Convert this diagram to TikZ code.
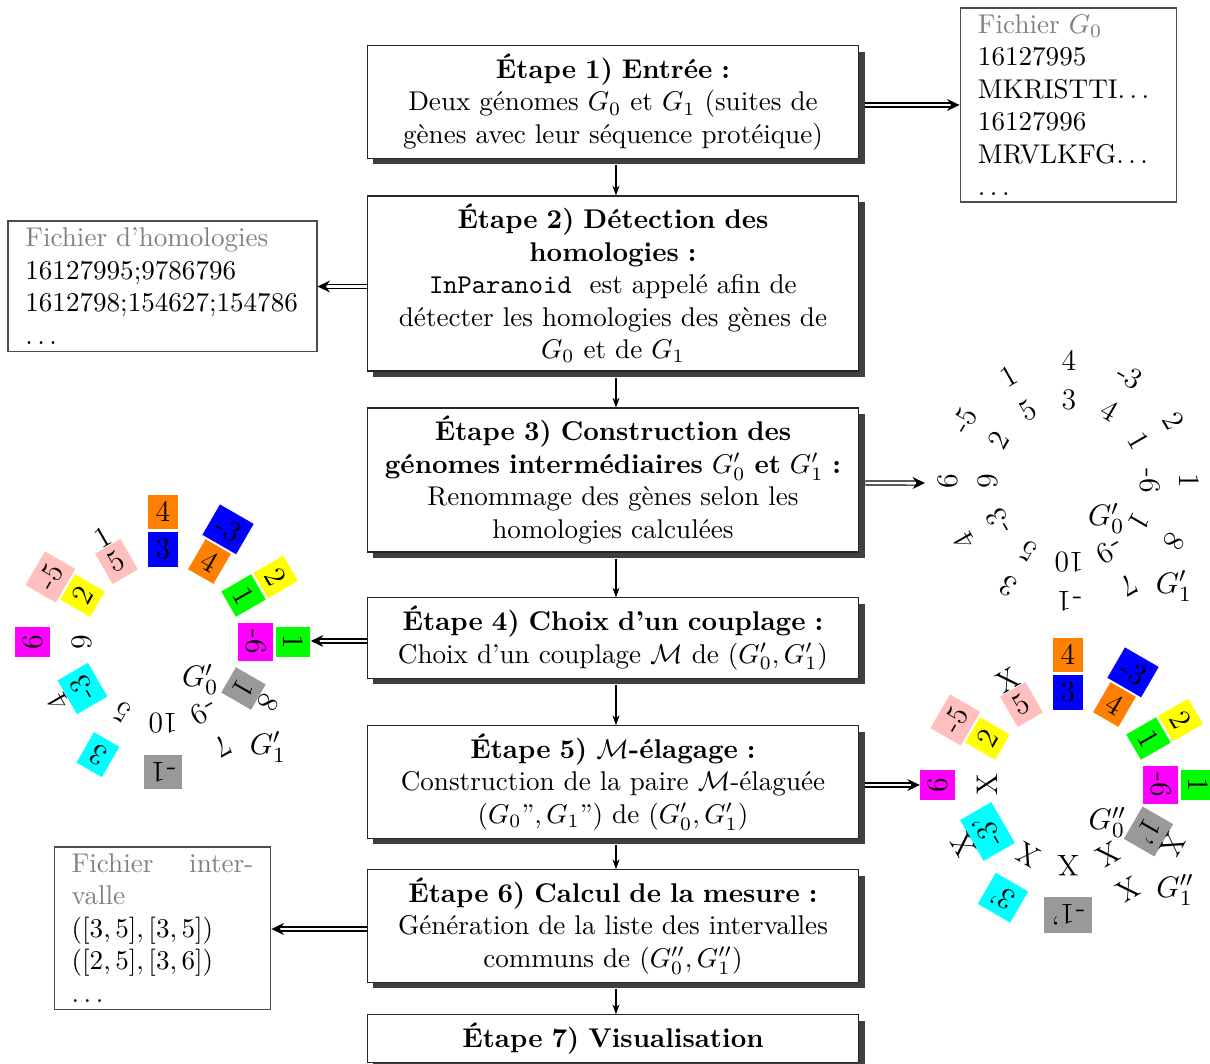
\documentclass[tikz,border=0pt]{standalone}
\usepackage{fontspec}
\usetikzlibrary{arrows.meta,shadows}
\definecolor{genegray}{gray}{0.6}
\definecolor{genemagenta}{rgb}{1,0,1}
\definecolor{genecyan}{rgb}{0,1,1}
\definecolor{geneblue}{rgb}{0,0,1}
\definecolor{geneorange}{rgb}{1,0.5,0}
\definecolor{genegreen}{rgb}{0,1,0}
\definecolor{geneyellow}{rgb}{1,1,0}
\definecolor{genepink}{rgb}{1,0.75,0.75}
\def\gnone{none}
% one ring of twelve genes, read clockwise from the top
% #1 name prefix, #2 radius of plain labels, #3 radius of coloured labels, #4 list label/colour
\newcommand\genering[4]{%
  \foreach \lab/\col [count=\k from 0] in {#4} {%
    \pgfmathsetmacro\ang{90-30*\k}%
    \ifx\col\gnone
      \node[gene, rotate=\ang-90] (#1\k) at (\ang:#2) {\lab};
    \else
      \node[gene, genebox=\col, rotate=\ang-90] (#1\k) at (\ang:#3) {\lab};
    \fi
  }}
\begin{document}
\begin{tikzpicture}[x=0.369pt, y=-0.369pt,
  stepbox/.style={draw=black!85, line width=0.4pt, fill=white,
    minimum width=181.5pt, text width=172pt, inner xsep=4.75pt, inner ysep=3pt,
    align=center,
    drop shadow={shadow xshift=2.2pt, shadow yshift=-2.2pt, fill=black!75, opacity=1}},
  filebox/.style={draw=black!70, line width=0.4pt, fill=white, align=left,
    inner xsep=6.4pt, inner ysep=2pt},
  flow/.style={line width=0.4pt, -{Stealth[length=3.6pt, width=2.6pt]}},
  feed/.style={double, double distance=1.1pt, line width=0.4pt,
    -{Stealth[length=4.6pt, width=4.4pt]}},
  gene/.style={font=\fontsize{11}{13}\selectfont, inner sep=1pt},
  genebox/.style={fill=#1, inner sep=2.7pt},
  ringlabel/.style={font=\fontsize{11}{13}\selectfont, inner sep=0pt}]

\useasboundingbox (0,0) rectangle (1210,1063);

% ---- the seven steps
\node[stepbox, minimum height=41.3pt] (b1) at (613,102)
  {{\bfseries Étape 1) Entrée :}\\
   Deux génomes $G_0$ et $G_1$ (suites de\\
   gènes avec leur séquence protéique)};
\node[stepbox, minimum height=63.8pt] (b2) at (613,283.5)
  {{\bfseries Étape 2) Détection des\\ homologies :}\\
   \texttt{InParanoid}\ \ est appelé afin de\\
   détecter les homologies des gènes de\\
   $G_0$ et de $G_1$};
\node[stepbox, minimum height=52.4pt] (b3) at (613,480)
  {{\bfseries Étape 3) Construction des\\
    génomes intermédiaires $G'_0$ et $G'_1$ :}\\
   Renommage des gènes selon les\\
   homologies calculées};
\node[stepbox, minimum height=28.8pt] (b4) at (613,638)
  {{\bfseries Étape 4) Choix d’un couplage :}\\
   Choix d’un couplage $\mathcal{M}$ de $(G'_0,G'_1)$};
\node[stepbox, minimum height=40.6pt] (b5) at (613,782)
  {{\bfseries Étape 5) $\mathcal{M}$-élagage :}\\
   Construction de la paire $\mathcal{M}$-élaguée\\
   ($G_0$'',$\,G_1$'') de $(G'_0,G'_1)$};
\node[stepbox, minimum height=41.3pt] (b6) at (613,926)
  {{\bfseries Étape 6) Calcul de la mesure :}\\
   Génération de la liste des intervalles\\
   communs de $(G''_0,G''_1)$};
\node[stepbox, minimum height=17.3pt] (b7) at (613,1038.5)
  {{\bfseries Étape 7) Visualisation}};

% ---- files
\node[filebox, minimum width=80pt, minimum height=71.6pt, text width=66.8pt] (fg0) at (1068.5,105)
  {{\color{black!50}Fichier $G_0$}\\ 16127995\\ MKRISTTI$\ldots$\\ 16127996\\ MRVLKFG$\ldots$\\ $\ldots$};
\node[filebox, minimum width=114pt, minimum height=48pt, text width=101.2pt] (fhom) at (162.5,286)
  {{\color{black!50}Fichier d’homologies}\\ 16127995;9786796\\ 1612798;154627;154786\\ $\ldots$};
\node[filebox, minimum width=80pt, minimum height=59.8pt, text width=67pt] (fint) at (162.5,928)
  {{\color{black!50}Fichier\hfill inter-\\ valle}\\ $([3,5],[3,5])$\\ $([2,5],[3,6])$\\ $\ldots$};

% ---- genomes G'0 / G'1
\begin{scope}[shift={(1069,481)}]
  \genering{ai}{29.9pt}{34.3pt}{3/none,4/none,1/none,-6/none,1/none,-9/none,10/none,5/none,-3/none,9/none,2/none,5/none}
  \genering{ao}{44.6pt}{48pt}{4/none,-3/none,2/none,1/none,8/none,7/none,-1/none,3/none,4/none,6/none,-5/none,1/none}
  \node[ringlabel] (ag0) at (13.7pt,-13.7pt) {$G'_0$};
  \node[ringlabel] (ag1) at (38.7pt,-38.7pt) {$G'_1$};
\end{scope}

% ---- matching M on G'0 / G'1
\begin{scope}[shift={(163,642)}]
  \genering{bi}{29.9pt}{34.3pt}{3/geneblue,4/geneorange,1/genegreen,-6/genemagenta,1/genegray,-9/none,10/none,5/none,-3/genecyan,9/none,2/geneyellow,5/genepink}
  \genering{bo}{44.6pt}{48pt}{4/geneorange,-3/geneblue,2/geneyellow,1/genegreen,8/none,7/none,-1/genegray,3/genecyan,4/none,6/genemagenta,-5/genepink,1/none}
  \node[ringlabel] (bg0) at (13.7pt,-13.7pt) {$G'_0$};
  \node[ringlabel] (bg1) at (38.7pt,-38.7pt) {$G'_1$};
\end{scope}

% ---- pruned pair G''0 / G''1
\begin{scope}[shift={(1068,785)}]
  \genering{ci}{29.9pt}{34.3pt}{3/geneblue,4/geneorange,1/genegreen,-6/genemagenta,1'/genegray,X/none,X/none,X/none,-3'/genecyan,X/none,2/geneyellow,5/genepink}
  \genering{co}{44.6pt}{48pt}{4/geneorange,-3/geneblue,2/geneyellow,1/genegreen,X/none,X/none,-1'/genegray,3'/genecyan,X/none,6/genemagenta,-5/genepink,X/none}
  \node[ringlabel] (cg0) at (14.5pt,-13.7pt) {$G''_0$};
  \node[ringlabel] (cg1) at (39.5pt,-38.7pt) {$G''_1$};
\end{scope}

\coordinate (ain) at (925,483);

% ---- flow between the steps
\draw[flow] ([xshift=1.1pt,yshift=-2.2pt]b1.south) -- ([xshift=1.1pt]b2.north);
\draw[flow] ([xshift=1.1pt,yshift=-2.2pt]b2.south) -- ([xshift=1.1pt]b3.north);
\draw[flow] ([xshift=1.1pt,yshift=-2.2pt]b3.south) -- ([xshift=1.1pt]b4.north);
\draw[flow] ([xshift=1.1pt,yshift=-2.2pt]b4.south) -- ([xshift=1.1pt]b5.north);
\draw[flow] ([xshift=1.1pt,yshift=-2.2pt]b5.south) -- ([xshift=1.1pt]b6.north);
\draw[flow] ([xshift=1.1pt,yshift=-2.2pt]b6.south) -- ([xshift=1.1pt]b7.north);

% ---- outputs of the steps
\draw[feed] ([xshift=2.2pt,yshift=-1.1pt]b1.east) -- ([yshift=-1.1pt]b1.east -| fg0.west);
\draw[feed] ([yshift=-1.1pt]b2.west) -- ([yshift=-1.1pt]b2.west -| fhom.east);
\draw[feed] ([xshift=2.2pt,yshift=-1.1pt]b3.east) -- (ain);
\draw[feed] ([yshift=-1.1pt]b4.west) -- ([yshift=-1.1pt]b4.west -| bo3.north);
\draw[feed] ([xshift=2.2pt,yshift=-1.1pt]b5.east) -- ([yshift=-1.1pt]b5.east -| co9.north);
\draw[feed] ([yshift=-1.1pt]b6.west) -- ([yshift=-1.1pt]b6.west -| fint.east);
\end{tikzpicture}
\end{document}
